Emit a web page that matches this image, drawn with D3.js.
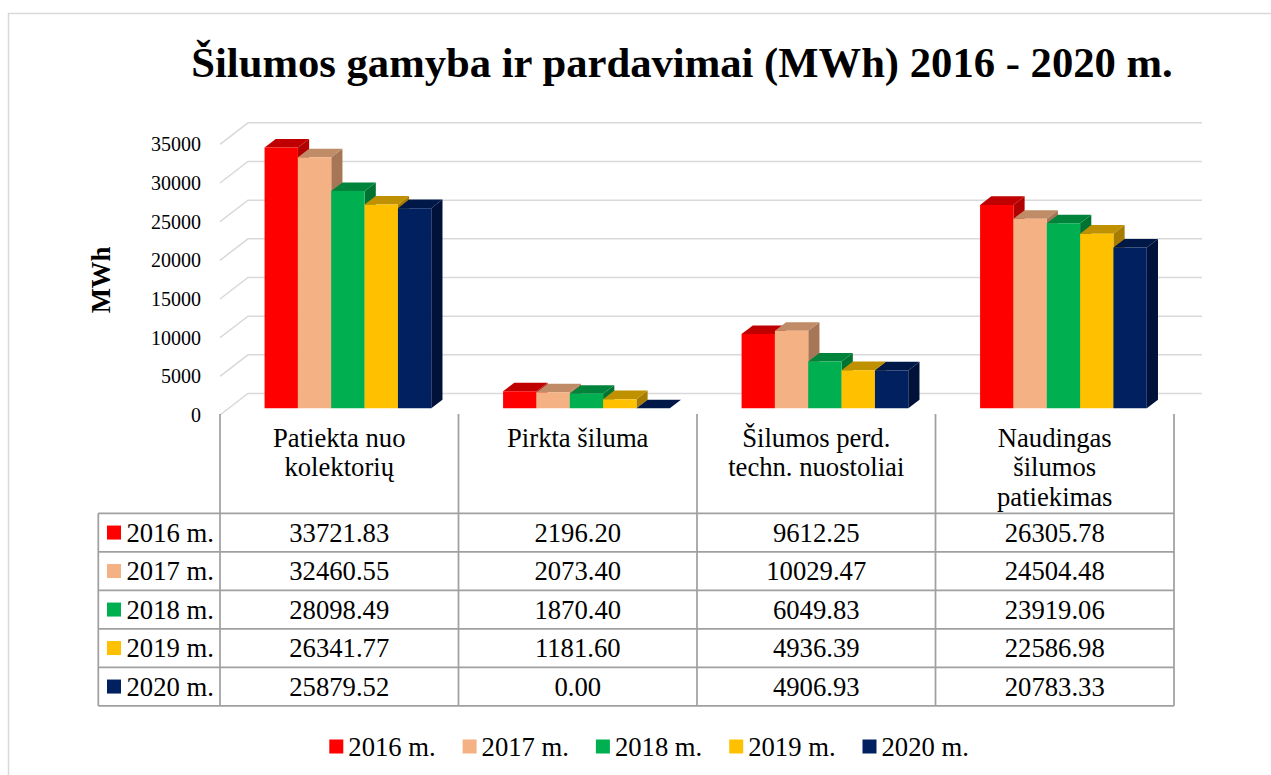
<!DOCTYPE html>
<html>
<head>
<meta charset="utf-8">
<title>Šilumos gamyba ir pardavimai</title>
<script src="https://cdn.jsdelivr.net/npm/d3@7"></script>
<style>
  body { margin: 0; background: #fff; }
  svg text { font-family: "Liberation Serif", "Times New Roman", serif; fill: #000; }
</style>
</head>
<body>
<script>
  var categories = ["Patiekta nuo\nkolektorių", "Pirkta šiluma", "Šilumos perd.\ntechn. nuostoliai", "Naudingas\nšilumos\npatiekimas"];
  var years = ["2016 m.", "2017 m.", "2018 m.", "2019 m.", "2020 m."];
  var v2016 = [33721.83, 2196.20, 9612.25, 26305.78];
  var v2017 = [32460.55, 2073.40, 10029.47, 24504.48];
  var v2018 = [28098.49, 1870.40, 6049.83, 23919.06];
  var v2019 = [26341.77, 1181.60, 4936.39, 22586.98];
  var v2020 = [25879.52, 0.00, 4906.93, 20783.33];
  var yTicks = [0, 5000, 10000, 15000, 20000, 25000, 30000, 35000];

  var frontColors = ["#ff0000", "#f4b183", "#00b050", "#ffc000", "#002060"];
  var topColors   = ["#c00000", "#c08b67", "#00843c", "#bf9000", "#001848"];
  var sideColors  = ["#b00000", "#a67656", "#007332", "#a67d00", "#00123a"];

  var series = [v2016, v2017, v2018, v2019, v2020];

  var width = 1271, height = 775;
  var DX = 28, DY = -21.5;          // full depth of the 3D box
  var d0 = 0.31, d1 = 0.71;         // bar depth range

  var svg = d3.select("body").append("svg")
      .attr("width", width)
      .attr("height", height);

  // outer chart border
  svg.append("rect")
      .attr("x", 8.5).attr("y", 13.5)
      .attr("width", width + 20).attr("height", height + 20)
      .attr("fill", "none").attr("stroke", "#d9d9d9").attr("stroke-width", 1.5);

  svg.append("text")
      .attr("x", 682).attr("y", 77)
      .attr("text-anchor", "middle")
      .style("font-size", "42.67px").style("font-weight", "bold")
      .text("Šilumos gamyba ir pardavimai (MWh) 2016 - 2020 m.");

  var x = d3.scaleBand().domain(categories).range([220, 1174]);
  var xIn = d3.scaleBand().domain(years)
      .range([(x.bandwidth() - 166.7) / 2, (x.bandwidth() + 166.7) / 2]);
  var y = d3.scaleLinear().domain([0, 35000]).range([415, 144.3]);

  function P(px, py, d) { return [px + d * DX, py + d * DY]; }
  function poly(pts) { return "M" + pts.map(function (p) { return p.join(","); }).join("L") + "Z"; }

  // grid: back wall lines and left wall diagonals
  var grid = svg.append("g").attr("stroke", "#d9d9d9").attr("stroke-width", 1.5).attr("fill", "none");
  yTicks.forEach(function (t) {
    var a = P(220, y(t), 0), b = P(220, y(t), 1), c = P(1174, y(t), 1);
    grid.append("path").attr("d", "M" + a + "L" + b + "L" + c);
  });

  // y axis labels
  var yAxis = d3.axisLeft(y).tickValues(yTicks).tickSize(0).tickPadding(0).tickFormat(d3.format("d"));
  var ax = svg.append("g").attr("transform", "translate(201,0)").call(yAxis);
  ax.select(".domain").remove();
  ax.selectAll("text")
      .style("font-family", "'Liberation Serif', serif")
      .style("font-size", "20px")
      .attr("fill", "#000");

  svg.append("text")
      .attr("transform", "translate(110,280) rotate(-90)")
      .attr("text-anchor", "middle")
      .style("font-size", "26.67px").style("font-weight", "bold")
      .text("MWh");

  // bars
  var bars = svg.append("g");
  categories.forEach(function (c, ci) {
    years.forEach(function (yr, si) {
      var v = series[si][ci];
      var xl = x(c) + xIn(yr), xr = xl + xIn.bandwidth();
      var yb = y(0), yt = y(v);
      var g = bars.append("g");
      // right side
      g.append("path").attr("fill", sideColors[si])
          .attr("d", poly([P(xr, yt, d0), P(xr, yt, d1), P(xr, yb, d1), P(xr, yb, d0)]));
      // top
      g.append("path").attr("fill", topColors[si])
          .attr("d", poly([P(xl, yt, d0), P(xl, yt, d1), P(xr, yt, d1), P(xr, yt, d0)]));
      // front
      if (v > 0) {
        g.append("path").attr("fill", frontColors[si])
            .attr("d", poly([P(xl, yt, d0), P(xr, yt, d0), P(xr, yb, d0), P(xl, yb, d0)]));
      }
    });
  });

  // data table
  var rowTop = 513.3, rowH = 38.5;
  var tbl = svg.append("g").attr("stroke", "#a0a0a0").attr("stroke-width", 1.75).attr("fill", "none");
  x.domain().concat([null]).forEach(function (c) {
    var xv = c === null ? 1174 : x(c);
    tbl.append("line").attr("x1", xv).attr("x2", xv).attr("y1", 414).attr("y2", rowTop + rowH * years.length);
  });
  tbl.append("line").attr("x1", 98.3).attr("x2", 98.3).attr("y1", rowTop).attr("y2", rowTop + rowH * years.length);
  d3.range(years.length + 1).forEach(function (i) {
    tbl.append("line").attr("x1", 98.3).attr("x2", 1174)
        .attr("y1", rowTop + i * rowH).attr("y2", rowTop + i * rowH);
  });

  // category labels
  categories.forEach(function (c) {
    var t = svg.append("text")
        .attr("text-anchor", "middle")
        .style("font-size", "26.67px");
    c.split("\n").forEach(function (line, li) {
      t.append("tspan").attr("x", x(c) + x.bandwidth() / 2).attr("y", 446.5 + li * 29.5).text(line);
    });
  });

  // table rows
  years.forEach(function (yr, si) {
    var cy = rowTop + si * rowH + rowH / 2;
    svg.append("rect").attr("x", 107).attr("y", cy - 7).attr("width", 14).attr("height", 14).attr("fill", frontColors[si]);
    svg.append("text").attr("x", 126.5).attr("y", cy + 9).style("font-size", "26.67px").text(yr);
    categories.forEach(function (c, ci) {
      svg.append("text")
          .attr("x", x(c) + x.bandwidth() / 2).attr("y", cy + 9)
          .attr("text-anchor", "middle")
          .style("font-size", "26.67px")
          .text(series[si][ci].toFixed(2));
    });
  });

  // legend
  var lg = svg.append("g");
  years.forEach(function (yr, si) {
    var lx = 329.3 + si * 133.3;
    lg.append("rect").attr("x", lx).attr("y", 739.5).attr("width", 14).attr("height", 14).attr("fill", frontColors[si]);
    lg.append("text").attr("x", lx + 19).attr("y", 755.5).style("font-size", "26.67px").text(yr);
  });
</script>
</body>
</html>
